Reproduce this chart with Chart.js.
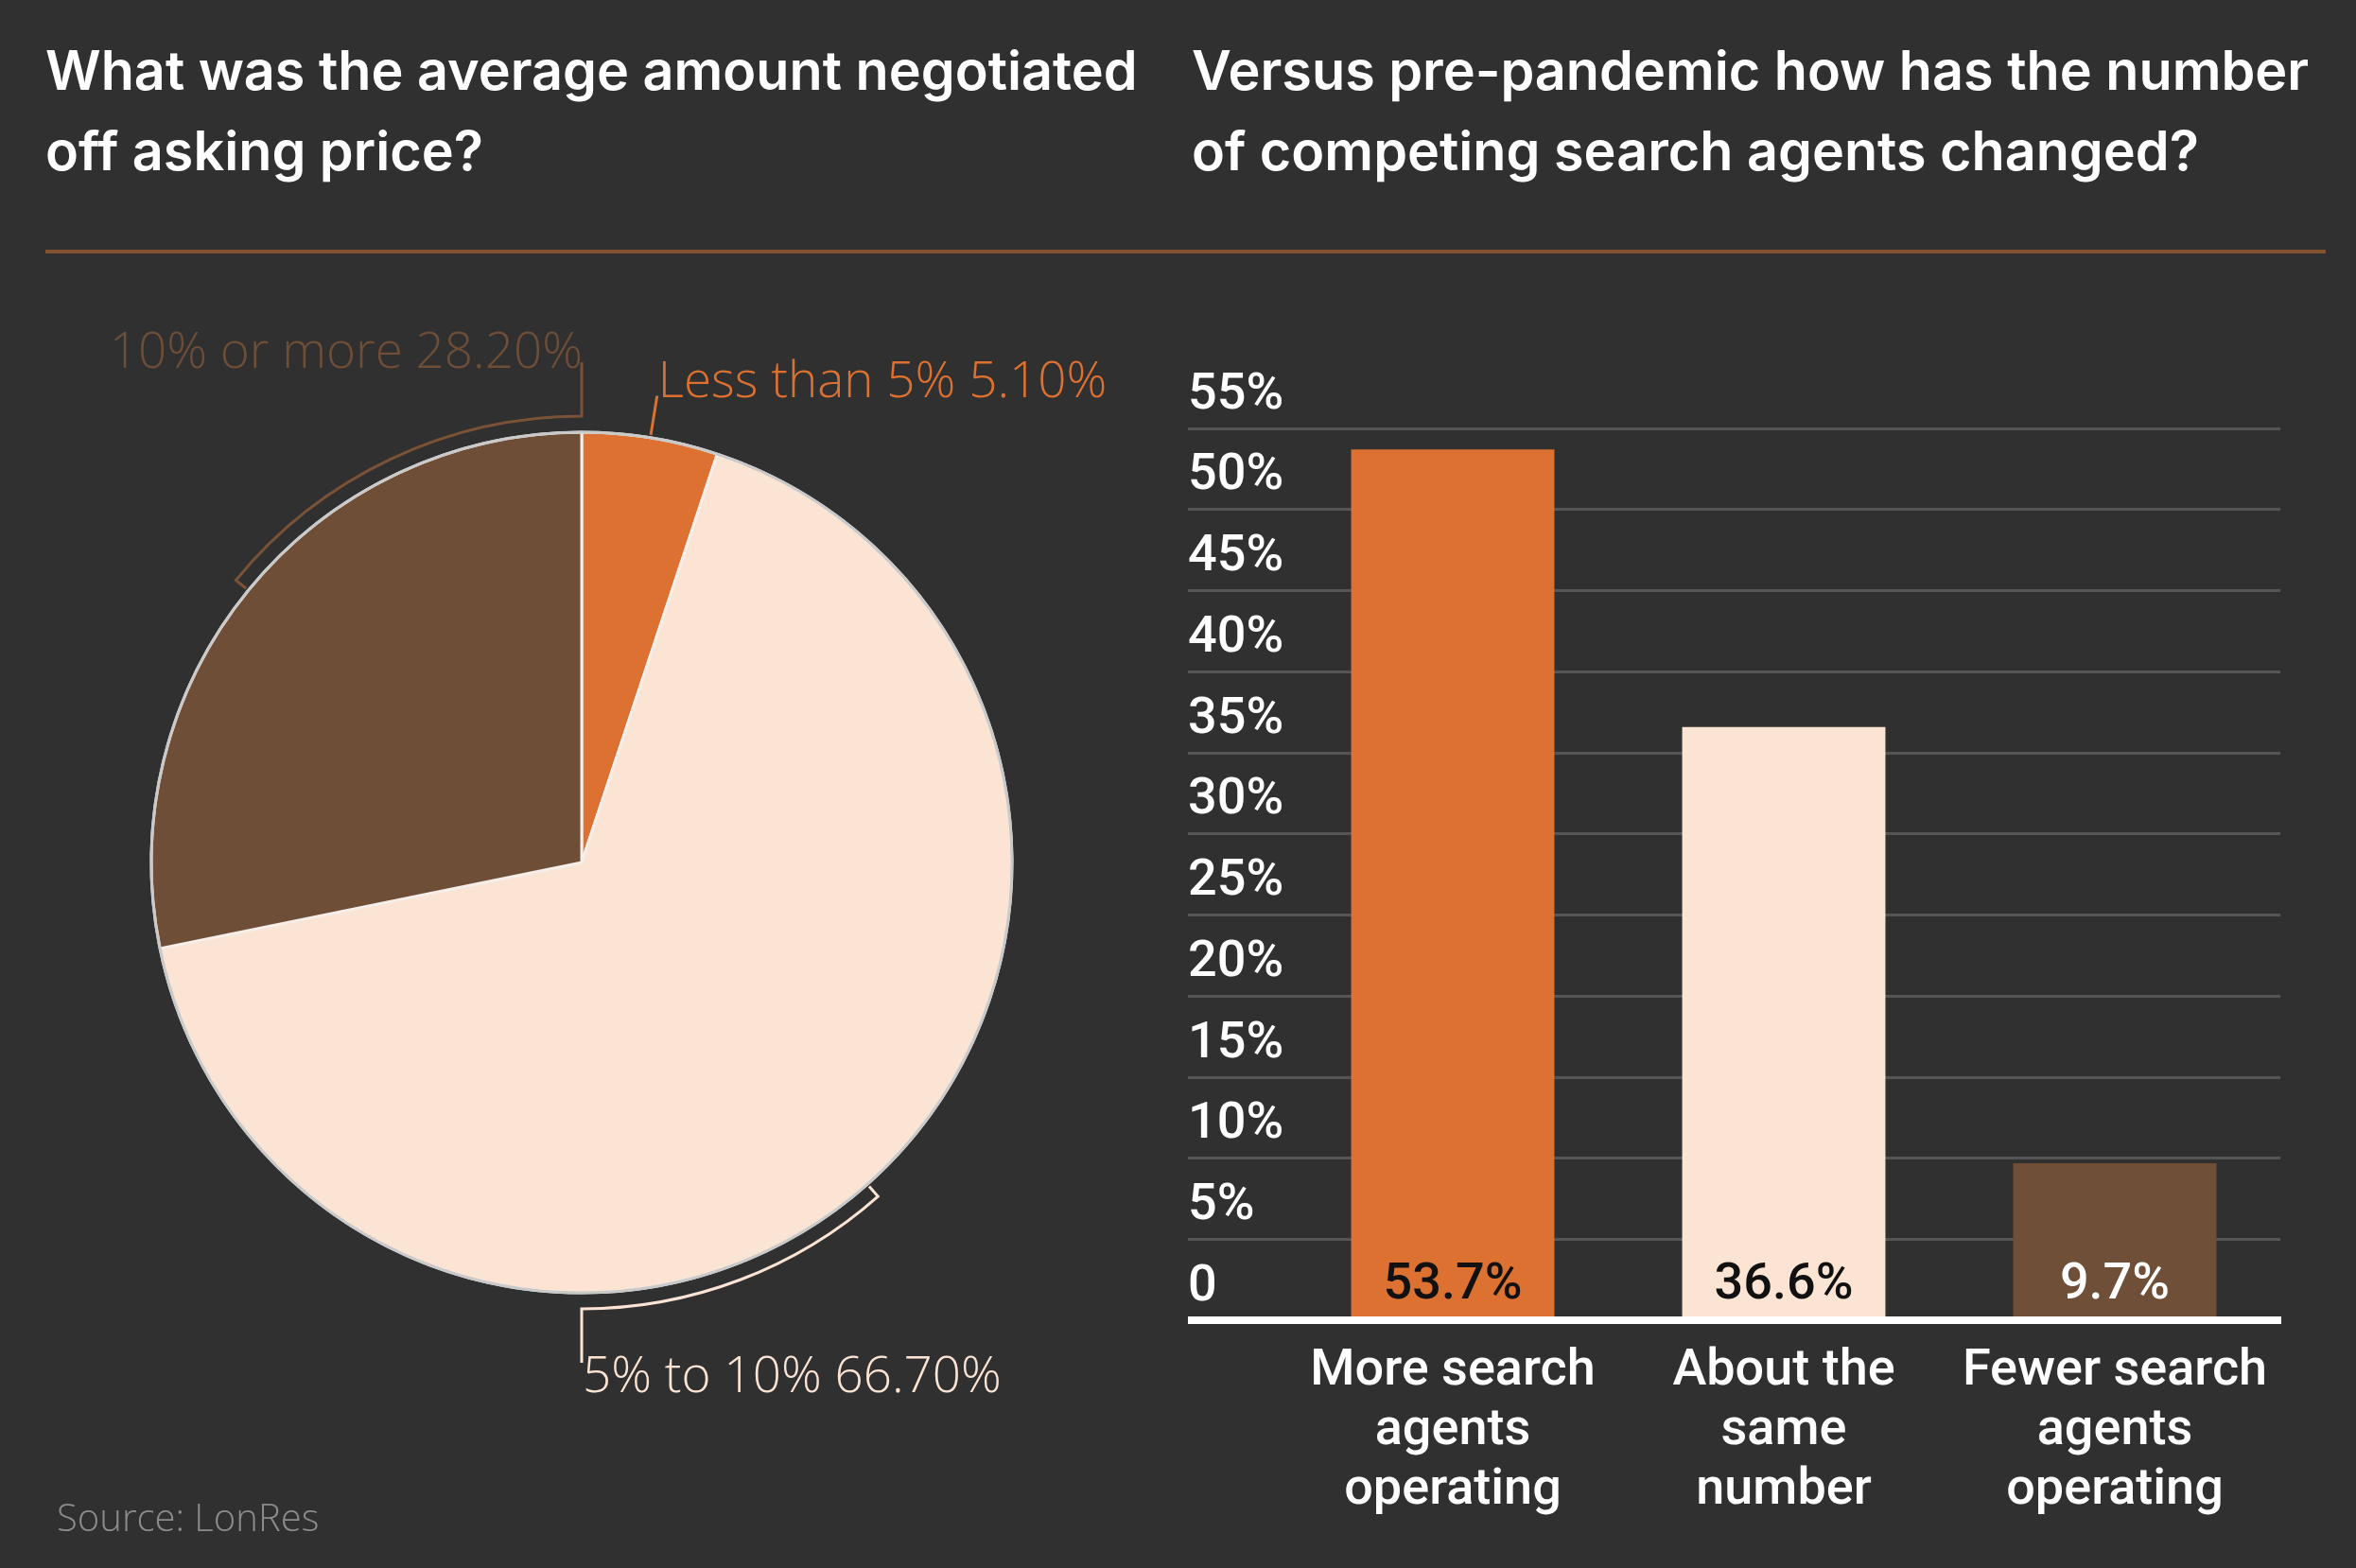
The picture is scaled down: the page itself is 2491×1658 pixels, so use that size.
<html><head>
<meta charset="UTF-8">
<title>Negotiated discounts and competing search agents</title>
<style>
  html, body {
    margin: 0;
    padding: 0;
    background-color: #303030;
  }
  #page {
    position: relative;
    width: 2491px;
    height: 1658px;
    overflow: hidden;
    background-color: #303030;
  }
  .title {
    position: absolute;
    top: 32px;
    color: #ffffff;
    font-family: Inter, sans-serif;
    font-weight: 600;
    font-size: 57.5px;
    line-height: 85px;
    white-space: nowrap;
  }
  #rule {
    position: absolute;
    left: 48px;
    top: 264px;
    width: 2411px;
    height: 4px;
    background-color: #845231;
  }
  #source {
    position: absolute;
    left: 60px;
    top: 1576px;
    color: #8c8c8c;
    font-family: "Open Sans", sans-serif;
    font-weight: 300;
    font-size: 40px;
  }
  #pieBox {
    position: absolute;
    left: 0;
    top: 280px;
    width: 1240px;
    height: 1378px;
  }
  #barBox {
    position: absolute;
    left: 1240px;
    top: 280px;
    width: 1251px;
    height: 1378px;
  }
</style>
<script src="https://cdn.jsdelivr.net/npm/chart.js"></script>
</head>
<body>
<div id="page">
  <div class="title" style="left:48px">What was the average amount negotiated<br>off asking price?</div>
  <div class="title" style="left:1260px">Versus pre-pandemic how has the number<br>of competing search agents changed?</div>
  <div id="rule"></div>
  <div id="pieBox"><canvas id="pieChart"></canvas></div>
  <div id="barBox"><canvas id="barChart"></canvas></div>
  <div id="source">Source: LonRes</div>
</div>

<script>
// pie: average amount negotiated off asking price
const pieLabels = ['Less than 5%', '5% to 10%', '10% or more'];
const pieValues = [5.1, 66.7, 28.2];
const pieColors = ['#dc7131', '#fbe4d4', '#6f4e38'];
const pieLineColors = ['#dc7131', '#fbe4d4', '#7a5237'];
const pieLabelMode = ['leader', 'bottom', 'top'];

// bars: competing search agents vs pre-pandemic
const barLabels = [['More search', 'agents', 'operating'], ['About the', 'same', 'number'], ['Fewer search', 'agents', 'operating']];
const barValues = [53.7, 36.6, 9.7];
const barColors = ['#dc7131', '#fbe4d4', '#6f4f38'];
const barTextColors = ['#111111', '#111111', '#ffffff'];
const yTicks = [0, 5, 10, 15, 20, 25, 30, 35, 40, 45, 50, 55];

Chart.defaults.animation = false;
Chart.defaults.font.family = 'Roboto, sans-serif';

const pieDecor = {
  id: 'pieDecor',
  afterDatasetsDraw(chart) {
    const ctx = chart.ctx;
    const arcs = chart.getDatasetMeta(0).data;
    const cx = arcs[0].x, cy = arcs[0].y, r = arcs[0].outerRadius;

    ctx.save();
    // grey outer ring
    ctx.beginPath();
    ctx.arc(cx, cy, r, 0, Math.PI * 2);
    ctx.strokeStyle = '#c9c9c9';
    ctx.lineWidth = 3;
    ctx.stroke();

    ctx.font = '300 53px "Open Sans", sans-serif';
    ctx.lineWidth = 3;
    arcs.forEach((arc, i) => {
      const mid = (arc.startAngle + arc.endAngle) / 2;
      const text = pieLabels[i] + ' ' + pieValues[i].toFixed(2) + '%';
      ctx.strokeStyle = pieLineColors[i];
      ctx.fillStyle = pieColors[i];
      const rb = r + 17;

      if (pieLabelMode[i] === 'leader') {
        const x1 = cx + (r + 3) * Math.cos(mid), y1 = cy + (r + 3) * Math.sin(mid);
        const x2 = cx + (r + 45) * Math.cos(mid), y2 = cy + (r + 45) * Math.sin(mid);
        ctx.beginPath();
        ctx.moveTo(x1, y1);
        ctx.lineTo(x2, y2);
        ctx.stroke();
        ctx.textAlign = 'left';
        ctx.textBaseline = 'alphabetic';
        ctx.fillText(text, x2 + 1, y2 + 2);
        return;
      }

      const target = pieLabelMode[i] === 'top' ? Math.PI * 1.5 : Math.PI * 0.5;
      ctx.beginPath();
      ctx.moveTo(cx + (r + 3) * Math.cos(mid), cy + (r + 3) * Math.sin(mid));
      ctx.lineTo(cx + rb * Math.cos(mid), cy + rb * Math.sin(mid));
      ctx.arc(cx, cy, rb, mid, target, target < mid);
      const dir = pieLabelMode[i] === 'top' ? -1 : 1;
      ctx.lineTo(cx, cy + dir * (rb + 57));
      ctx.stroke();

      ctx.textBaseline = 'alphabetic';
      if (dir < 0) {
        ctx.textAlign = 'right';
        ctx.fillText(text, cx + 1, cy - rb - 51);
      } else {
        ctx.textAlign = 'left';
        ctx.fillText(text, cx + 1, cy + rb + 88);
      }
    });
    ctx.restore();
  }
};

new Chart(document.getElementById('pieChart'), {
  type: 'pie',
  data: {
    labels: pieLabels,
    datasets: [{
      data: pieValues,
      backgroundColor: pieColors,
      borderColor: '#f5eee9',
      borderWidth: 3
    }]
  },
  options: {
    responsive: true,
    maintainAspectRatio: false,
    layout: { padding: { left: 158.5, right: 168.5, top: 175.5, bottom: 289.5 } },
    plugins: { legend: { display: false }, tooltip: { enabled: false } }
  },
  plugins: [pieDecor]
});

const barValueLabels = {
  id: 'barValueLabels',
  afterDatasetsDraw(chart) {
    const ctx = chart.ctx;
    const y0 = chart.scales.y.getPixelForValue(0);
    ctx.save();
    ctx.font = '500 54px Roboto, sans-serif';
    ctx.textAlign = 'center';
    ctx.textBaseline = 'middle';
    chart.getDatasetMeta(0).data.forEach((bar, i) => {
      ctx.fillStyle = barTextColors[i];
      ctx.fillText(barValues[i].toFixed(1) + '%', bar.x, y0 - 37);
    });
    ctx.restore();
  }
};

new Chart(document.getElementById('barChart'), {
  type: 'bar',
  data: {
    labels: barLabels,
    datasets: [{
      data: barValues,
      backgroundColor: barColors,
      categoryPercentage: 1,
      barPercentage: 0.614
    }]
  },
  options: {
    responsive: true,
    maintainAspectRatio: false,
    layout: { padding: { left: 16, right: 80, top: 173, bottom: 36 } },
    plugins: { legend: { display: false }, tooltip: { enabled: false } },
    scales: {
      x: {
        grid: { display: false },
        border: { display: true, color: '#ffffff', width: 8, z: 1 },
        ticks: {
          color: '#ffffff',
          padding: 14,
          maxRotation: 0,
          autoSkip: false,
          font: { size: 54, weight: 500, lineHeight: 1.17 }
        }
      },
      y: {
        min: 0,
        max: 55,
        afterBuildTicks: (scale) => { scale.ticks = yTicks.map(v => ({ value: v })); },
        afterFit: (scale) => { scale.width = 105; },
        border: { display: false },
        grid: {
          tickLength: 105,
          color: (c) => (c.tick && c.tick.value === 0 ? '#ffffff' : '#555555'),
          lineWidth: (c) => (c.tick && c.tick.value === 0 ? 8 : 3)
        },
        ticks: {
          color: '#ffffff',
          crossAlign: 'far',
          labelOffset: -35,
          font: { size: 54, weight: 500 },
          callback: (v) => (v === 0 ? '0' : v + '%')
        }
      }
    }
  },
  plugins: [barValueLabels]
});
</script>
</body></html>
